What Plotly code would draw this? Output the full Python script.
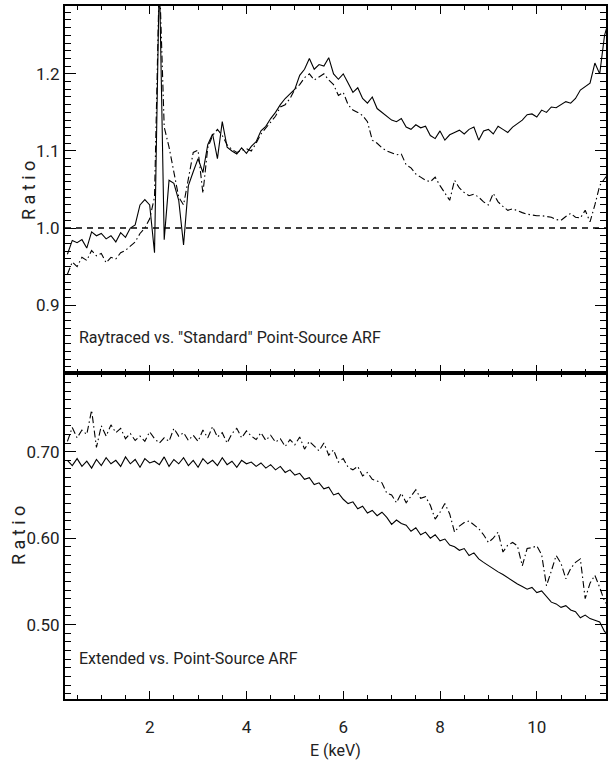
import numpy as np
import plotly.graph_objects as go

# Energy grid (keV)
energy = np.round(np.arange(0.3, 11.55, 0.1), 2)

# Top panel: Raytraced vs. "Standard" point-source ARF
top_solid = [
    0.966, 0.984, 0.981, 0.985, 0.974, 0.995, 0.990, 0.993, 0.986, 0.990,
    0.982, 0.994, 0.988, 1.000, 1.004, 1.030, 1.037, 1.030, 0.968, 1.330,
    0.985, 1.062, 1.058, 1.036, 0.978, 1.055, 1.073, 1.090, 1.072, 1.108,
    1.122, 1.090, 1.138, 1.105, 1.100, 1.096, 1.104, 1.097, 1.106, 1.112,
    1.126, 1.132, 1.142, 1.150, 1.160, 1.168, 1.174, 1.180, 1.198, 1.206,
    1.220, 1.206, 1.212, 1.210, 1.221, 1.200, 1.193, 1.200, 1.188, 1.176,
    1.182, 1.168, 1.162, 1.170, 1.155, 1.150, 1.146, 1.140, 1.138, 1.142,
    1.131, 1.128, 1.134, 1.130, 1.132, 1.120, 1.116, 1.126, 1.114, 1.121,
    1.124, 1.127, 1.122, 1.128, 1.131, 1.114, 1.126, 1.128, 1.122, 1.132,
    1.128, 1.124, 1.131, 1.136, 1.140, 1.147, 1.148, 1.144, 1.153, 1.150,
    1.157, 1.156, 1.160, 1.164, 1.162, 1.168, 1.179, 1.184, 1.188, 1.214,
    1.200, 1.250, 1.272,
]
top_dashdot = [
    0.940, 0.956, 0.950, 0.962, 0.958, 0.971, 0.964, 0.967, 0.955, 0.962,
    0.960, 0.968, 0.971, 0.976, 0.982, 0.993, 1.000, 1.012, 1.040, 1.330,
    1.131, 1.105, 1.070, 1.040, 1.030, 1.062, 1.098, 1.101, 1.045, 1.104,
    1.120, 1.128, 1.120, 1.108, 1.102, 1.098, 1.100, 1.103, 1.100, 1.110,
    1.122, 1.130, 1.138, 1.145, 1.157, 1.160, 1.168, 1.180, 1.186, 1.195,
    1.200, 1.192, 1.196, 1.200, 1.192, 1.186, 1.172, 1.176, 1.160, 1.153,
    1.150, 1.146, 1.138, 1.114, 1.110, 1.104, 1.100, 1.098, 1.095, 1.096,
    1.082, 1.078, 1.070, 1.066, 1.062, 1.060, 1.066, 1.055, 1.046, 1.036,
    1.062, 1.052, 1.046, 1.042, 1.044, 1.040, 1.034, 1.030, 1.045, 1.034,
    1.028, 1.023, 1.025, 1.022, 1.020, 1.018, 1.017, 1.016, 1.016, 1.015,
    1.014, 1.011, 1.010, 1.015, 1.019, 1.014, 1.013, 1.023, 1.008, 1.030,
    1.055, 1.064, 1.072,
]

# Bottom panel: Extended vs. point-source ARF
bot_solid = [
    0.690, 0.684, 0.692, 0.683, 0.689, 0.681, 0.691, 0.684, 0.693, 0.686,
    0.690, 0.683, 0.694, 0.686, 0.691, 0.682, 0.692, 0.687, 0.689, 0.685,
    0.694, 0.683, 0.691, 0.686, 0.693, 0.684, 0.690, 0.682, 0.692, 0.686,
    0.690, 0.684, 0.693, 0.685, 0.689, 0.682, 0.690, 0.686, 0.688, 0.683,
    0.687, 0.681, 0.685, 0.679, 0.683, 0.676, 0.679, 0.673, 0.675, 0.668,
    0.670, 0.662, 0.664, 0.657, 0.659, 0.650, 0.652, 0.645, 0.640, 0.642,
    0.634, 0.637, 0.629, 0.632, 0.626, 0.630, 0.624, 0.616, 0.621, 0.617,
    0.615, 0.608, 0.612, 0.604, 0.607, 0.600, 0.604, 0.597, 0.599, 0.592,
    0.590, 0.586, 0.588, 0.580, 0.583, 0.576, 0.572, 0.568, 0.564, 0.561,
    0.558, 0.554, 0.551, 0.547, 0.544, 0.541, 0.543, 0.537, 0.539, 0.532,
    0.526, 0.524, 0.520, 0.522, 0.517, 0.515, 0.508, 0.511, 0.507, 0.505,
    0.503, 0.492, 0.488,
]
bot_dashdot = [
    0.712, 0.728, 0.716, 0.725, 0.720, 0.748, 0.705, 0.730, 0.718, 0.731,
    0.722, 0.727, 0.715, 0.721, 0.713, 0.718, 0.712, 0.723, 0.715, 0.710,
    0.716, 0.712, 0.727, 0.718, 0.722, 0.713, 0.719, 0.712, 0.725, 0.716,
    0.729, 0.717, 0.722, 0.710, 0.721, 0.727, 0.716, 0.724, 0.718, 0.714,
    0.722, 0.713, 0.719, 0.711, 0.715, 0.706, 0.714, 0.708, 0.717, 0.703,
    0.712, 0.706, 0.701, 0.710, 0.696, 0.702, 0.688, 0.692, 0.682, 0.679,
    0.683, 0.672, 0.676, 0.668, 0.666, 0.664, 0.652, 0.650, 0.641, 0.652,
    0.641, 0.648, 0.656, 0.646, 0.648, 0.638, 0.622, 0.630, 0.640, 0.628,
    0.607, 0.614, 0.618, 0.620, 0.616, 0.611, 0.604, 0.595, 0.600, 0.607,
    0.584, 0.592, 0.595, 0.591, 0.568, 0.588, 0.589, 0.591, 0.581, 0.545,
    0.562, 0.580, 0.571, 0.553, 0.565, 0.572, 0.576, 0.530, 0.548, 0.557,
    0.543, 0.527, 0.520,
]

reference_ratio = 1.0
x_range = [0.25, 11.43]
top_range = [0.812, 1.288]
bot_range = [0.414, 0.791]
x_ticks = [2, 4, 6, 8, 10]
top_ticks = [0.9, 1.0, 1.1, 1.2]
bot_ticks = [0.50, 0.60, 0.70]

FONT = "Roboto, Lato, sans-serif"
TXT = "#222222"
DASHDOT = "7px,3px,1.5px,3px"

fig = go.Figure()
line_solid = dict(color="black", width=1.1)
line_dd = dict(color="black", width=1.1, dash=DASHDOT)

fig.add_trace(go.Scatter(x=energy, y=top_dashdot, mode="lines", line=line_dd,
                         xaxis="x2", yaxis="y", showlegend=False))
fig.add_trace(go.Scatter(x=energy, y=top_solid, mode="lines", line=line_solid,
                         xaxis="x2", yaxis="y", showlegend=False))
fig.add_trace(go.Scatter(x=x_range, y=[reference_ratio, reference_ratio], mode="lines",
                         line=dict(color="black", width=1.5, dash="6px,5px"),
                         xaxis="x2", yaxis="y", showlegend=False))
fig.add_trace(go.Scatter(x=energy, y=bot_dashdot, mode="lines", line=line_dd,
                         xaxis="x", yaxis="y2", showlegend=False))
fig.add_trace(go.Scatter(x=energy, y=bot_solid, mode="lines", line=line_solid,
                         xaxis="x", yaxis="y2", showlegend=False))

split = (699 - 373) / 693.0

axis_common = dict(showline=True, linecolor="black", linewidth=2, mirror="ticks",
                   ticks="inside", tickcolor="black", showgrid=False, zeroline=False,
                   automargin=False,
                   tickfont=dict(family=FONT, size=17, color=TXT))

fig.update_layout(
    width=609, height=768,
    margin=dict(l=65, r=3, t=6, b=69, autoexpand=False),
    paper_bgcolor="white", plot_bgcolor="white",
    font=dict(family=FONT, color=TXT),
    xaxis=dict(**axis_common, range=x_range, tickvals=x_ticks, ticklen=8, tickwidth=1,
               anchor="y2", ticklabelstandoff=12,
               minor=dict(ticks="inside", ticklen=4, dtick=0.5, tick0=0, tickcolor="black", tickwidth=1)),
    xaxis2=dict(**axis_common, range=x_range, tickvals=x_ticks, ticklen=8, tickwidth=1,
                anchor="y", matches="x", showticklabels=False,
                minor=dict(ticks="inside", ticklen=4, dtick=0.5, tick0=0, tickcolor="black", tickwidth=1)),
    yaxis=dict(**axis_common, range=top_range, tickvals=top_ticks, tickformat=".1f",
               ticklen=11, tickwidth=1, domain=[split, 1], anchor="x2",
               minor=dict(ticks="inside", ticklen=6, dtick=0.01, tick0=0, tickcolor="black", tickwidth=1)),
    yaxis2=dict(**axis_common, range=bot_range, tickvals=bot_ticks, tickformat=".2f",
                ticklen=11, tickwidth=1, domain=[0, split], anchor="x",
                minor=dict(ticks="inside", ticklen=6, dtick=0.01, tick0=0, tickcolor="black", tickwidth=1)),
)

ann_font = dict(family=FONT, size=16, color=TXT)
fig.add_annotation(text='Raytraced vs. "Standard" Point-Source ARF', xref="paper", yref="paper",
                   x=12 / 541, y=(699 - 337) / 693, xanchor="left", yanchor="middle",
                   showarrow=False, font=ann_font)
fig.add_annotation(text="Extended vs. Point-Source ARF", xref="paper", yref="paper",
                   x=12 / 541, y=(699 - 658) / 693, xanchor="left", yanchor="middle",
                   showarrow=False, font=ann_font)
fig.add_annotation(text="R a t i o", xref="paper", yref="paper", textangle=-90,
                   x=(28 - 65) / 541, y=(699 - 191) / 693, xanchor="center", yanchor="middle",
                   showarrow=False, font=dict(family=FONT, size=18, color=TXT))
fig.add_annotation(text="R a t i o", xref="paper", yref="paper", textangle=-90,
                   x=(18 - 65) / 541, y=(699 - 536) / 693, xanchor="center", yanchor="middle",
                   showarrow=False, font=dict(family=FONT, size=18, color=TXT))
fig.add_annotation(text="E (keV)", xref="paper", yref="paper",
                   x=0.5, y=(699 - 750) / 693, xanchor="center", yanchor="middle",
                   showarrow=False, font=dict(family=FONT, size=16, color=TXT))

fig.write_html("out.html", config={"displayModeBar": False},
               post_script="document.body.style.margin='0';document.body.style.padding='0';")
